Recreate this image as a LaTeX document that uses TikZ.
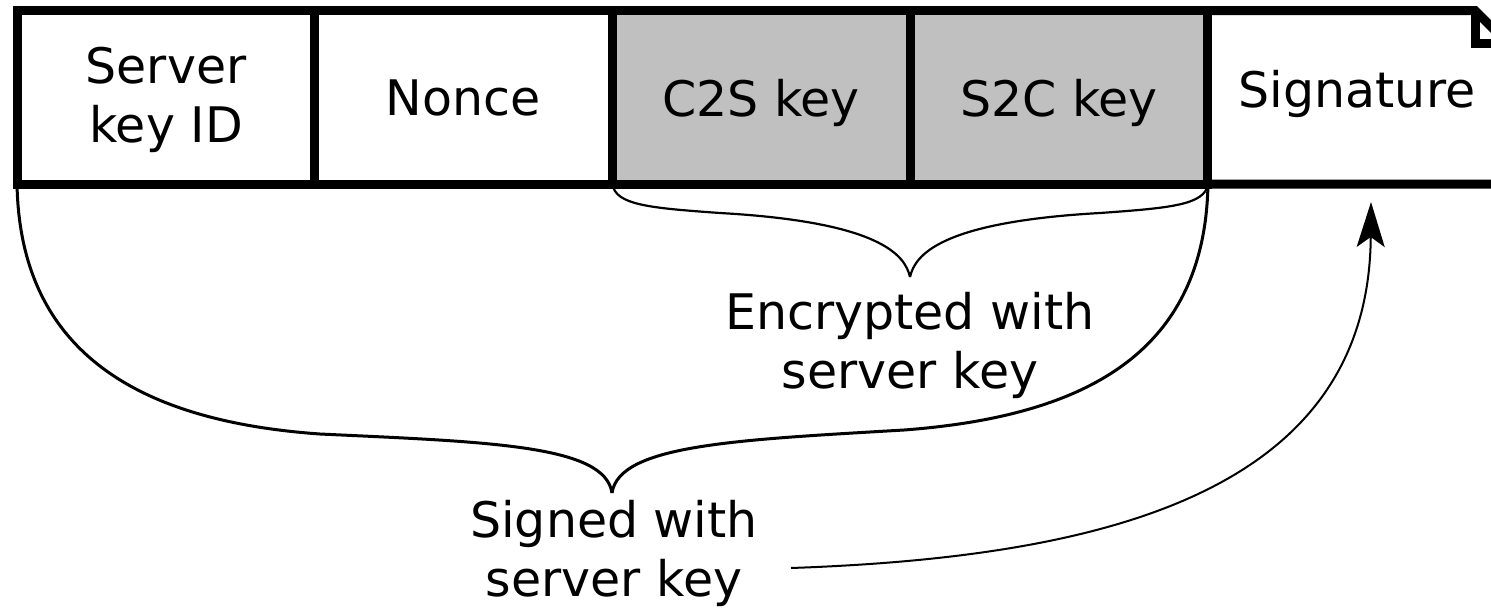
\documentclass[tikz,border=0pt]{standalone}
\usepackage{fontspec}
\setmainfont{DejaVu Sans}
\usetikzlibrary{arrows.meta}
\definecolor{cellgray}{RGB}{192,192,192}
\begin{document}
\begin{tikzpicture}[x=1pt,y=-1pt,
  cell/.style={draw, line width=9pt, minimum width=297.75pt, minimum height=173.5pt, outer sep=0pt, inner sep=0pt},
  lbl/.style={font=\fontsize{49}{59}\selectfont, align=center, inner sep=0pt},
  smallbrace/.style={line width=2.2pt},
  bigbrace/.style={line width=3pt},
  arr/.style={line width=2pt, -{Stealth[length=45pt,width=28pt,inset=10pt]}}]
\useasboundingbox (0,0) rectangle (1491,608);
\clip (0,0) rectangle (1491,608);
% cells
\node[cell] (c1) at (165.9,97.25) {};
\node[cell] (c2) at (463.6,97.25) {};
\node[cell, fill=cellgray] (c3) at (761.4,97.25) {};
\node[cell, fill=cellgray] (c4) at (1059.1,97.25) {};
\draw[line width=9pt, miter limit=10] (c4.north east) -- (1475,10.5) -- (1510,45.5) -- (1510,184) -- (c4.south east);
\draw[line width=9pt] (1475,10.5) |- (1510,43);
% labels
\node[lbl] (t1) at (166,99.5) {Server\\key ID};
\node[lbl] (t2) at (463,98) {Nonce};
\node[lbl] (t3) at (761,102.5) {C2S key};
\node[lbl] (t4) at (1059,102.5) {S2C key};
\node[lbl] (t5) at (1357,93.5) {Signature};
\node[lbl] (enc) at (910,345) {Encrypted with\\server key};
\node[lbl] (sgn) at (614,553) {Signed with\\server key};
% braces
\coordinate (encTip) at (910,277);
\draw[smallbrace] (c3.south west) .. controls (615,205) and (650,208) .. (720,213)
  .. controls (880,222) and (905,255) .. (encTip);
\draw[smallbrace] (encTip) .. controls (915,255) and (940,222) .. (1100,213)
  .. controls (1170,208) and (1205,205) .. (c4.south east);
\coordinate (sgnTip) at (612,493);
\draw[bigbrace] (c1.south west) .. controls (20,360) and (150,422) .. (320,434)
  .. controls (490,442) and (605,445) .. (sgnTip);
\draw[bigbrace] (sgnTip) .. controls (619,445) and (734,440) .. (904,430)
  .. controls (1090,416) and (1205,350) .. (c4.south east);
% arrow
\coordinate (arrS) at (791,568);
\coordinate (arrE) at (1371,202);
\draw[arr] (arrS) .. controls (1110,557) and (1369,490) .. (arrE);
\end{tikzpicture}
\end{document}
